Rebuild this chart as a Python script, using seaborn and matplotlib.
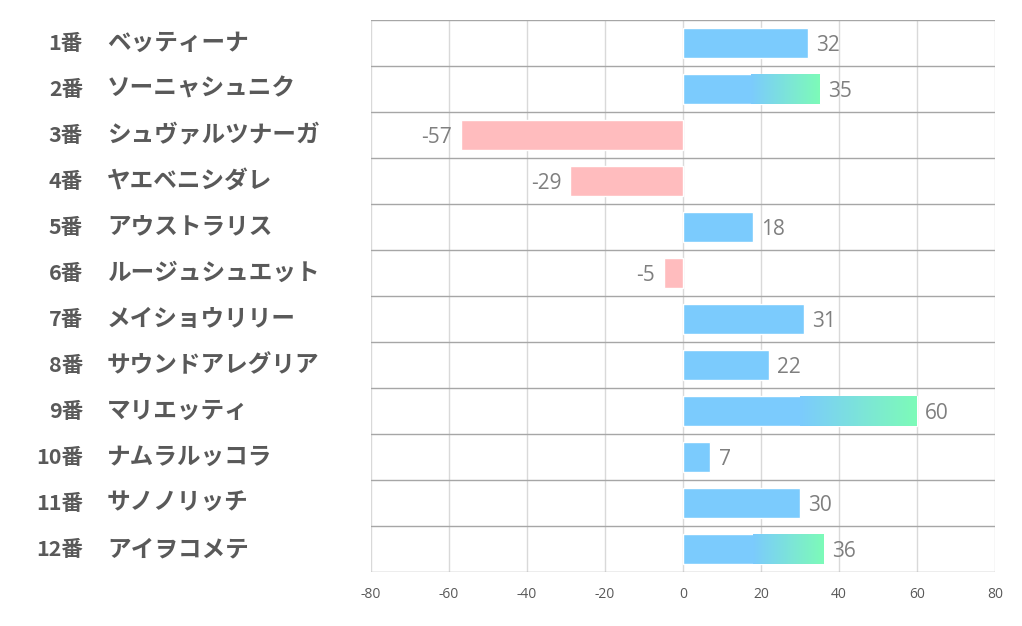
import numpy as np
import pandas as pd
import matplotlib
matplotlib.use('Agg')
import matplotlib.pyplot as plt
import matplotlib.transforms as mtransforms
from matplotlib.colors import LinearSegmentedColormap
import seaborn as sns

# データ
numbers = ['1番', '2番', '3番', '4番', '5番', '6番', '7番', '8番', '9番', '10番', '11番', '12番']
horses = ['ベッティーナ', 'ソーニャシュニク', 'シュヴァルツナーガ', 'ヤエベニシダレ', 'アウストラリス',
          'ルージュシュエット', 'メイショウリリー', 'サウンドアレグリア', 'マリエッティ', 'ナムラルッコラ',
          'サノノリッチ', 'アイヲコメテ']
scores = [32, 35, -57, -29, 18, -5, 31, 22, 60, 7, 30, 36]
xticks = [-80, -60, -40, -20, 0, 20, 40, 60, 80]

sns.set_style('white')
plt.rcParams['font.family'] = ['Noto Sans CJK JP', 'DejaVu Sans']

df = pd.DataFrame({'label': [f'{n} {h}' for n, h in zip(numbers, horses)], 'score': scores})
df['sign'] = np.where(df['score'] >= 0, 'pos', 'neg')

BLUE = '#7bcbfd'
GREEN = '#7dfbb8'
PINK = '#ffbcbe'

fig = plt.figure(figsize=(10.22, 6.26), dpi=100)
ax = fig.add_axes([371 / 1022, 1 - 572 / 626, (995 - 371) / 1022, (572 - 20) / 626])

sns.barplot(data=df, x='score', y='label', hue='sign', palette={'pos': BLUE, 'neg': PINK},
            dodge=False, legend=False, width=0.65, saturation=1, ax=ax, orient='h', zorder=2)

# 上位の棒はグラデーション（中央から先端へ）
cmap = LinearSegmentedColormap.from_list('bg', [BLUE, GREEN])
grad = np.linspace(0, 1, 256).reshape(1, -1)
for cont in ax.containers:
    for bar in cont:
        w = bar.get_width()
        if w >= 35:
            y0 = bar.get_y()
            h = bar.get_height()
            im = ax.imshow(grad, cmap=cmap, aspect='auto', extent=(w / 2, w, y0 + h, y0),
                           zorder=2.1, interpolation='bilinear')
            im.set_clip_path(bar)

for cont in ax.containers:
    texts = ax.bar_label(cont, padding=6, fontsize=15, color='#7f7f7f',
                         family=['Open Sans', 'DejaVu Sans'])
    for t in texts:
        t.xyann = (t.xyann[0], t.xyann[1] - 2)

ax.set_xlim(-80, 80)
ax.set_ylim(len(scores) - 0.5, -0.5)
ax.set_xticks(xticks)
ax.set_xticklabels([str(t) for t in xticks], fontsize=10, color='#595959',
                   family=['Open Sans', 'DejaVu Sans'])
ax.tick_params(axis='x', length=0, pad=11)
ax.set_yticks([])
ax.set_xlabel('')
ax.set_ylabel('')

# グリッド
for t in xticks:
    ax.axvline(t, color='#d9d9d9', lw=1, zorder=1)
for i in range(len(scores) + 1):
    ax.axhline(i - 0.5, color='#a6a6a6', lw=1, zorder=3)
for s in ax.spines.values():
    s.set_visible(False)

# 左側のラベル
trans = mtransforms.blended_transform_factory(fig.transFigure, ax.transData)
for i, (n, h) in enumerate(zip(numbers, horses)):
    ax.text(83 / 1022, i, n, transform=trans, ha='right', va='center', fontsize=15.5,
            fontweight='bold', color='#595959', clip_on=False)
    ax.text(107 / 1022, i, h, transform=trans, ha='left', va='center', fontsize=17,
            fontweight='bold', color='#595959', clip_on=False)

fig.savefig('out.png', dpi=100, facecolor='white')
